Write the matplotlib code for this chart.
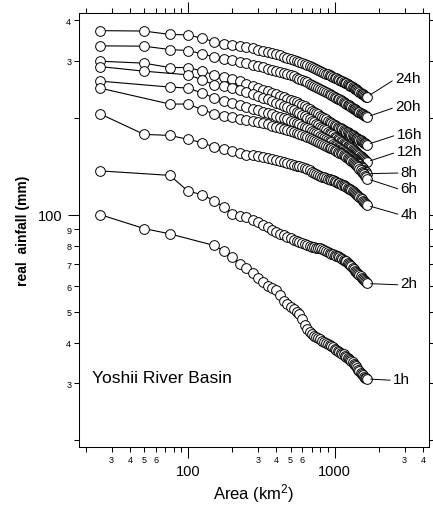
import numpy as np
import matplotlib
matplotlib.use("Agg")
import matplotlib.pyplot as plt
from matplotlib.ticker import FixedLocator, FuncFormatter

plt.rcParams['font.family'] = ['Liberation Sans', 'DejaVu Sans']
plt.rcParams['mathtext.default'] = 'regular'

# catchment area (km2) of each point
area = [25, 50, 75, 100, 125, 150, 175, 200, 225, 250, 275, 300, 325, 350, 375, 400,
        425, 450, 475, 500, 525, 550, 575, 600, 625, 650, 675, 700, 725, 750, 775, 800,
        825, 850, 875, 900, 925, 950, 975, 1000, 1025, 1050, 1075, 1100, 1125, 1150, 1175, 1200,
        1225, 1250, 1275, 1300, 1325, 1350, 1375, 1400, 1425, 1450, 1475, 1500, 1525, 1550, 1575, 1600,
        1625, 1650]

# areal rainfall (mm) for each duration, None = no point at that area
r24 = [372, 371, 362, 361, 352, 344, 338, 336, 333.5, 331, 327.5, 324, 321.5, 319, 316.5, 314,
       311.5, 309, 306.5, 304, 302, 300, 298, 296, 293.8, 291.5, 289.3, 287, 285, 283, 281, 279,
       277.3, 275.5, 273.8, 272, 270.5, 269, 267.5, 266, 264.5, 263, 261.7, 260.4, 259.1, 257.8, 256.5, 255.2,
       253.9, 252.6, 251.3, 250, 248.6, 247.3, 246, 244.6, 243.2, 241.8, 240.3, 238.8, 237.3, 235.8, 234.3, 232.8,
       232.0, 231.3]
r20 = [333.7, 333.0, 325.0, 322.7, 315.1, 308.4, 304.1, 300.8, 297.6, 294.4, 291.4, 288.3, 286.0, 283.7, 281.4, 279.1,
       276.9, 274.7, 272.5, 270.3, 268.2, 266.1, 263.9, 261.8, 259.5, 257.2, 254.9, 252.6, 250.8, 249.1, 247.3, 245.5,
       243.8, 242.0, 240.3, 238.6, 236.9, 235.2, 233.5, 231.8, 230.4, 229.0, 227.6, 226.3, 224.9, 223.5, 222.1, 220.7,
       219.4, 218.2, 216.9, 215.7, 214.4, 213.1, 211.9, 210.6, 209.6, 208.6, 207.6, 206.6, 205.7, 204.7, 203.7, 202.7,
       201.7, 200.7]
r16 = [299.1, 294.9, 285.8, 285.8, 278.5, 271.3, 266.9, 263.7, 259.6, 255.0, 251.0, 247.0, 244.3, 241.6, 238.8, 236.1,
       233.6, 231.2, 228.7, 226.2, 224.4, 222.7, 220.9, 219.1, 216.8, 214.5, 212.2, 209.9, 208.1, 206.2, 204.4, 202.6,
       200.8, 199.0, 197.2, 195.4, 193.9, 192.3, 190.8, 189.3, 188.2, 187.1, 186.1, 185.0, 183.9, 182.9, 181.8, 180.7,
       179.8, 178.8, 177.9, 177.0, 176.0, 175.1, 174.1, 173.2, 172.3, 171.4, 170.6, 169.8, 168.9, 168.1, 167.2, 166.4,
       165.5, 164.7]
r12 = [287.8, 278.5, None, 271.3, 261.8, 252.6, 250.8, 247.3, 243.8, 240.3, 236.9, 233.5, 230.7, 227.9, 225.1, 222.3,
       220.0, 217.6, 215.3, 212.9, 210.7, 208.5, 206.2, 204.0, 201.9, 199.7, 197.6, 195.4, 193.4, 191.4, 189.3, 187.3,
       185.7, 184.0, 182.4, 180.7, 179.1, 177.6, 176.0, 174.4, 173.2, 172.0, 170.8, 169.6, 168.3, 167.1, 165.9, 164.7,
       163.7, 162.7, 161.7, 160.7, 159.7, 158.7, 157.7, 156.7, 155.6, 154.5, 153.4, 152.3, 151.2, 150.0, 148.9, 147.8,
       146.7, 145.6]
r8 = [259.4, None, 248.6, 246.8, 238.1, 230.2, 225.4, 222.3, 219.2, 216.0, 213.3, 210.6, 208.6, 206.6, 204.6, 202.6,
      200.8, 199.0, 197.2, 195.4, 193.7, 192.0, 190.3, 188.6, 187.0, 185.3, 183.7, 182.0, 180.4, 178.8, 177.2, 175.6,
      174.2, 172.9, 171.5, 170.1, 168.8, 167.4, 166.1, 164.7, 163.6, 162.4, 161.3, 160.2, 159.0, 157.9, 156.7, 155.6,
      154.5, 153.4, 152.3, 151.3, 150.2, 149.1, 148.0, 146.9, 145.6, 144.3, 143.0, 141.7, 140.4, 139.1, 137.8, 136.5,
      135.2, 133.9]
r6 = [246.8, None, 220.2, 220.2, 211.4, 205.4, 202.6, 200.4, 198.6, 196.8, 195.1, 193.4, 191.9, 190.4, 188.8, 187.3,
      186.0, 184.7, 183.3, 182.0, 180.7, 179.5, 178.2, 176.9, 175.7, 174.4, 173.2, 171.9, 170.7, 169.5, 168.3, 167.1,
      165.9, 164.8, 163.6, 162.4, 161.4, 160.4, 159.4, 158.4, 157.5, 156.6, 155.7, 154.8, 153.9, 153.0, 152.1, 151.2,
      150.2, 149.1, 148.1, 147.0, 146.0, 144.9, 143.9, 142.8, 141.5, 140.1, 138.8, 137.4, 136.0, 134.7, 133.3, 132.0,
      130.6, 129.3]
r4 = [205.4, 177.3, 176.0, 171.1, 167.1, 162.0, 159.3, 157.0, 155.2, 153.4, 152.6, 151.8, 150.7, 149.6, 148.6, 147.5,
      146.5, 145.4, 144.4, 143.3, 142.6, 141.8, 141.1, 140.3, 139.2, 138.1, 137.0, 135.9, 134.8, 133.8, 132.7, 131.6,
      131.0, 130.5, 129.9, 129.3, 128.7, 128.2, 127.6, 127.0, 126.4, 125.7, 125.1, 124.4, 123.8, 123.1, 122.5, 121.8,
      121.1, 120.4, 119.7, 119.0, 118.3, 117.6, 116.9, 116.2, 115.3, 114.5, 113.6, 112.5, 111.5, 110.5, 109.5, 108.5,
      107.7, 106.9]
r2 = [136.6, None, 132.3, 118.1, 115.3, 110.3, 105.6, 100.7, 99.0, 98.0, 96.5, 94.8, 93.0, 91.3, 89.8, 88.3,
      87.3, 86.3, 85.3, 84.3, 83.6, 82.9, 82.2, 81.6, 81.0, 80.4, 79.8, 79.3, 79.1, 78.9, 78.7, 78.5,
      78.0, 77.5, 77.0, 76.5, 76.1, 75.7, 75.3, 74.9, 74.5, 74.1, 73.6, 73.2, 72.8, 72.4, 71.9, 71.5,
      70.9, 70.2, 69.6, 69.0, 68.3, 67.7, 67.0, 66.4, 65.9, 65.3, 64.8, 64.3, 63.7, 63.2, 62.7, 62.2,
      61.6, 61.1]
r1 = [100.0, 90.5, 87.1, None, None, 80.2, 77.1, 73.9, 70.3, 68.1, 65.7, 63.4, 61.6, 60.1, 59.2, 58.2,
      56.2, 53.8, 52.6, 51.7, 50.8, 50.0, 49.0, 47.3, 45.4, 44.1, 43.1, 42.5, 41.9, 41.6, 41.3, 41.0,
      40.6, 40.3, 40.0, 39.6, 39.3, 39.0, 38.8, 38.3, 38.1, 37.8, 37.5, 37.3, 37.0, 36.8, 36.5, 36.2,
      36.0, 35.7, 35.4, 35.1, 34.8, 34.4, 34.1, 33.8, 33.4, 33.0, 32.7, 32.3, 32.0, 31.7, 31.4, 31.2,
      31.0, 30.9]

durations = ['24h', '20h', '16h', '12h', '8h', '6h', '4h', '2h', '1h']
series = [r24, r20, r16, r12, r8, r6, r4, r2, r1]

# label offsets from the last point, in points
lab_dx = [20.5, 20.5, 21.5, 21.5, 24.5, 24.5, 24.5, 24.5, 19]
lab_dy = [14, 8, 8, 8, 1.5, -7, -6, 0, 0]

x_minor = [20, 30, 40, 50, 60, 70, 80, 90, 200, 300, 400, 500, 600, 700, 800, 900, 2000, 3000, 4000]
x_minor_shown = [30, 40, 50, 60, 300, 400, 500, 600, 3000, 4000]
y_minor = [20, 30, 40, 50, 60, 70, 80, 90, 200, 300, 400]
y_minor_shown = [30, 40, 50, 60, 70, 80, 90, 300, 400]

fig = plt.figure(figsize=(4.33, 5.06), dpi=100)
ax = fig.add_axes([79 / 433, 1 - 448 / 506, 350 / 433, 434 / 506])
ax.set_xscale('log')
ax.set_yscale('log')

a = np.array(area, dtype=float)
for name, vals, dx, dy in zip(durations, series, lab_dx, lab_dy):
    v = np.array([np.nan if q is None else q for q in vals], dtype=float)
    ok = ~np.isnan(v)
    ax.plot(a[ok], v[ok], color='black', lw=0.8, marker='o', ms=7,
            mfc='white', mec='black', mew=0.7)
    ax.annotate(name, xy=(a[ok][-1], v[ok][-1]), xytext=(dx, dy),
                textcoords='offset points', ha='left', va='center', fontsize=11,
                arrowprops=dict(arrowstyle='-', color='black', lw=0.7,
                                shrinkA=0, shrinkB=3, relpos=(0, 0.4)))

ax.set_xlim(18, 4400)
ax.set_ylim(19, 422)

ax.xaxis.set_major_locator(FixedLocator([100, 1000]))
ax.xaxis.set_minor_locator(FixedLocator(x_minor))
ax.yaxis.set_major_locator(FixedLocator([100]))
ax.yaxis.set_minor_locator(FixedLocator(y_minor))
ax.xaxis.set_major_formatter(FuncFormatter(lambda v, p: '%d' % v))
ax.yaxis.set_major_formatter(FuncFormatter(lambda v, p: '%d' % v))
ax.xaxis.set_minor_formatter(FuncFormatter(
    lambda v, p: str(int(round(v)))[0] if int(round(v)) in x_minor_shown else ''))
ax.yaxis.set_minor_formatter(FuncFormatter(
    lambda v, p: str(int(round(v)))[0] if int(round(v)) in y_minor_shown else ''))

ax.tick_params(which='both', direction='out', top=True, right=True, width=0.75)
ax.tick_params(which='major', length=8, labelsize=10.5, pad=4)
ax.tick_params(which='minor', length=3.6, labelsize=6.5, pad=2)
for s in ax.spines.values():
    s.set_linewidth(0.75)

ax.set_xlabel('Area (km$^2$)', fontsize=12)
ax.set_ylabel('real  ainfall (mm)', fontsize=10, fontweight='bold')
ax.xaxis.set_label_coords(0.5, -0.078)
ax.yaxis.set_label_coords(-0.14, 0.5)

ax.text(0.037, 0.159, 'Yoshii River Basin', transform=ax.transAxes,
        fontsize=12.5, ha='left', va='center')

fig.savefig('out.png', dpi=100)
